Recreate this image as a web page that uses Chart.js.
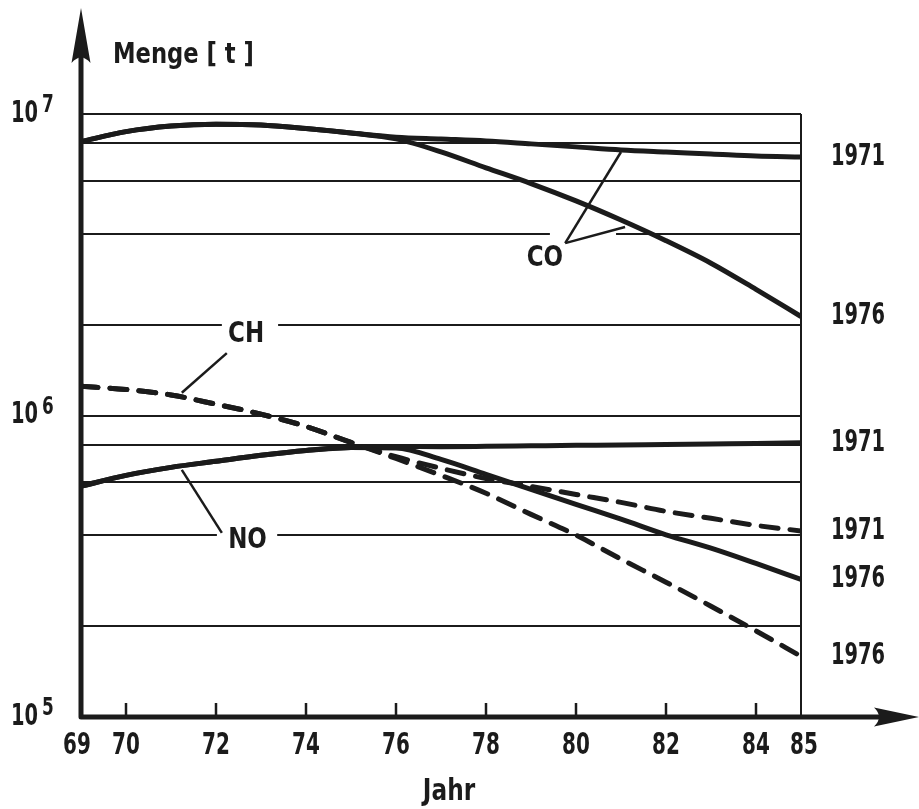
<!DOCTYPE html>
<html>
<head>
<meta charset="utf-8">
<script src="https://cdn.jsdelivr.net/npm/chart.js@4"></script>
<style>
  html, body { margin: 0; padding: 0; background: #fff; }
  #chart { display: block; }
</style>
</head>
<body>
<canvas id="chart" width="919" height="809"></canvas>
<script>
// Jahr (19xx)
const years = [69, 70, 71, 72, 73, 74, 75, 76, 77, 78, 79, 80, 81, 82, 83, 84, 85];

// Menge [t]
const co1971 = [8.1e6, 8.74e6, 9.12e6, 9.25e6, 9.2e6, 8.95e6, 8.65e6, 8.38e6, 8.26e6, 8.14e6, 7.96e6, 7.78e6, 7.6e6, 7.48e6, 7.37e6, 7.25e6, 7.2e6];
const co1976 = [8.1e6, 8.74e6, 9.12e6, 9.25e6, 9.2e6, 8.95e6, 8.65e6, 8.27e6, 7.49e6, 6.63e6, 5.88e6, 5.15e6, 4.45e6, 3.8e6, 3.2e6, 2.62e6, 2.13e6];
const ch1971 = [1.25e6, 1.22e6, 1.17e6, 1.09e6, 1.01e6, 9.2e5, 8.14e5, 7.3e5, 6.68e5, 6.18e5, 5.82e5, 5.47e5, 5.15e5, 4.81e5, 4.56e5, 4.32e5, 4.14e5];
const ch1976 = [1.25e6, 1.22e6, 1.17e6, 1.09e6, 1.01e6, 9.2e5, 8.14e5, 7.2e5, 6.33e5, 5.52e5, 4.7e5, 4.01e5, 3.34e5, 2.8e5, 2.33e5, 1.93e5, 1.59e5];
const no1971 = [5.83e5, 6.33e5, 6.73e5, 7.05e5, 7.38e5, 7.66e5, 7.83e5, 7.89e5, 7.88e5, 7.9e5, 7.93e5, 7.96e5, 7.98e5, 8.02e5, 8.05e5, 8.07e5, 8.12e5];
const no1976 = [5.83e5, 6.33e5, 6.73e5, 7.05e5, 7.38e5, 7.66e5, 7.83e5, 7.8e5, 7.15e5, 6.38e5, 5.69e5, 5.07e5, 4.53e5, 4.02e5, 3.63e5, 3.23e5, 2.86e5];

const xTicks = [69, 70, 72, 74, 76, 78, 80, 82, 84, 85];
const yGrid = [1e5, 2e5, 4e5, 6e5, 8e5, 1e6, 2e6, 4e6, 6e6, 8e6, 1e7];
const yDecades = [1e5, 1e6, 1e7];

const series = [
    { name: 'CO', year: '1971', values: co1971, dashed: false },
    { name: 'CO', year: '1976', values: co1976, dashed: false },
    { name: 'CH', year: '1971', values: ch1971, dashed: true },
    { name: 'CH', year: '1976', values: ch1976, dashed: true },
    { name: 'NO', year: '1971', values: no1971, dashed: false },
    { name: 'NO', year: '1976', values: no1976, dashed: false },
];

// curve names with leader lines, in data coordinates
const callouts = [
    { text: 'CO', at: [79.31, 3.32e6], gap: [79.42, 80.89, 4e6], leaders: [[[79.76, 3.73e6], [81.0, 7.48e6]], [[79.76, 3.73e6], [81.09, 4.22e6]]] },
    { text: 'CH', at: [72.67, 1.85e6], gap: [72.13, 73.38, 2e6], leaders: [[[72.24, 1.61e6], [71.24, 1.19e6]]] },
    { text: 'NO', at: [72.7, 3.86e5], gap: [72.02, 73.36, 4e5], leaders: [[[72.13, 4.08e5], [71.24, 6.6e5]]] },
];

const INK = '#1b1b1b';
const FONT = '"DejaVu Sans Condensed", "Liberation Sans Narrow", "DejaVu Sans", sans-serif';

// drafting lettering is narrow, so squeeze the glyphs horizontally
function text(ctx, str, px, py, size, sx, align, baseline) {
    ctx.save();
    ctx.font = 'bold ' + size + 'px ' + FONT;
    ctx.textAlign = align || 'center';
    ctx.textBaseline = baseline || 'middle';
    ctx.translate(px, py);
    ctx.scale(sx, 1);
    ctx.fillText(str, 0, 0);
    const w = ctx.measureText(str).width * sx;
    ctx.restore();
    return w;
}

const decor = {
    id: 'decor',
    afterDraw(chart) {
        const { ctx, chartArea: area, scales: { x, y } } = chart;
        ctx.save();
        ctx.fillStyle = INK;
        ctx.strokeStyle = INK;

        // breaks in the grid behind the curve names, then the names and leaders
        callouts.forEach((c) => {
            const gy = y.getPixelForValue(c.gap[2]);
            ctx.fillStyle = '#fff';
            ctx.fillRect(x.getPixelForValue(c.gap[0]), gy - 3, x.getPixelForValue(c.gap[1]) - x.getPixelForValue(c.gap[0]), 6);
            ctx.fillStyle = INK;
            text(ctx, c.text, x.getPixelForValue(c.at[0]), y.getPixelForValue(c.at[1]), 29, 0.88);
            ctx.lineWidth = 2.5;
            c.leaders.forEach(([a, b]) => {
                ctx.beginPath();
                ctx.moveTo(x.getPixelForValue(a[0]), y.getPixelForValue(a[1]));
                ctx.lineTo(x.getPixelForValue(b[0]), y.getPixelForValue(b[1]));
                ctx.stroke();
            });
        });

        // axes with arrows
        const x0 = area.left, y0 = area.bottom;
        ctx.lineWidth = 5;
        ctx.lineJoin = 'round';
        ctx.beginPath();
        ctx.moveTo(x0, 55);
        ctx.lineTo(x0, y0);
        ctx.lineTo(880, y0);
        ctx.stroke();

        ctx.beginPath();
        ctx.moveTo(x0, 8);
        ctx.lineTo(x0 + 9.5, 63);
        ctx.quadraticCurveTo(x0, 52, x0 - 9.5, 63);
        ctx.closePath();
        ctx.fill();

        ctx.beginPath();
        ctx.moveTo(919, y0);
        ctx.lineTo(874, y0 - 9.5);
        ctx.quadraticCurveTo(884, y0, 874, y0 + 9.5);
        ctx.closePath();
        ctx.fill();

        // small tick marks on the time axis
        ctx.lineWidth = 2.5;
        xTicks.slice(1, -1).forEach((t) => {
            const px = x.getPixelForValue(t);
            ctx.beginPath();
            ctx.moveTo(px, y0);
            ctx.lineTo(px, y0 - 14);
            ctx.stroke();
        });

        // tick labels
        xTicks.forEach((t) => {
            const shift = t === 69 ? -4 : t === 85 ? 3 : 0;
            text(ctx, String(t), x.getPixelForValue(t) + shift, y0 + 29, 30, 0.74);
        });
        text(ctx, 'Jahr', 449, 792, 30, 0.86);

        yDecades.forEach((v) => {
            const py = y.getPixelForValue(v);
            const w = text(ctx, '10', 11, py, 30, 0.72, 'left', 'middle');
            text(ctx, String(Math.round(Math.log10(v))), 11 + w + 4, py - 2, 24, 0.78, 'left', 'alphabetic');
        });

        text(ctx, 'Menge [ t ]', 113, 63, 28, 0.9, 'left', 'alphabetic');

        // year of each curve at its right end
        series.forEach((s) => {
            text(ctx, s.year, 831, y.getPixelForValue(s.values[s.values.length - 1]), 30, 0.72, 'left', 'middle');
        });

        ctx.restore();
    },
};

new Chart(document.getElementById('chart'), {
    type: 'line',
    data: {
        datasets: series.map((s) => ({
            label: s.name + ' ' + s.year,
            data: years.map((yr, i) => ({ x: yr, y: s.values[i] })),
            borderColor: INK,
            borderWidth: 5,
            borderDash: s.dashed ? [17, 12] : [],
            borderCapStyle: s.dashed ? 'round' : 'butt',
            pointRadius: 0,
            cubicInterpolationMode: 'monotone',
            fill: false,
        })),
    },
    options: {
        responsive: false,
        devicePixelRatio: 1,
        animation: false,
        layout: { padding: { left: 81, right: 118, top: 114, bottom: 92 } },
        plugins: { legend: { display: false }, tooltip: { enabled: false } },
        scales: {
            x: {
                type: 'linear',
                min: 69,
                max: 85,
                afterBuildTicks: (scale) => { scale.ticks = xTicks.map((v) => ({ value: v })); },
                ticks: { display: false },
                border: { display: false },
                grid: {
                    drawTicks: false,
                    lineWidth: 2,
                    color: (c) => (c.tick && c.tick.value === 85 ? INK : 'rgba(0,0,0,0)'),
                },
            },
            y: {
                type: 'logarithmic',
                min: 1e5,
                max: 1e7,
                afterBuildTicks: (scale) => { scale.ticks = yGrid.map((v) => ({ value: v })); },
                ticks: { display: false },
                border: { display: false },
                grid: { drawTicks: false, lineWidth: 2, color: INK },
            },
        },
    },
    plugins: [decor],
});
</script>
</body>
</html>
